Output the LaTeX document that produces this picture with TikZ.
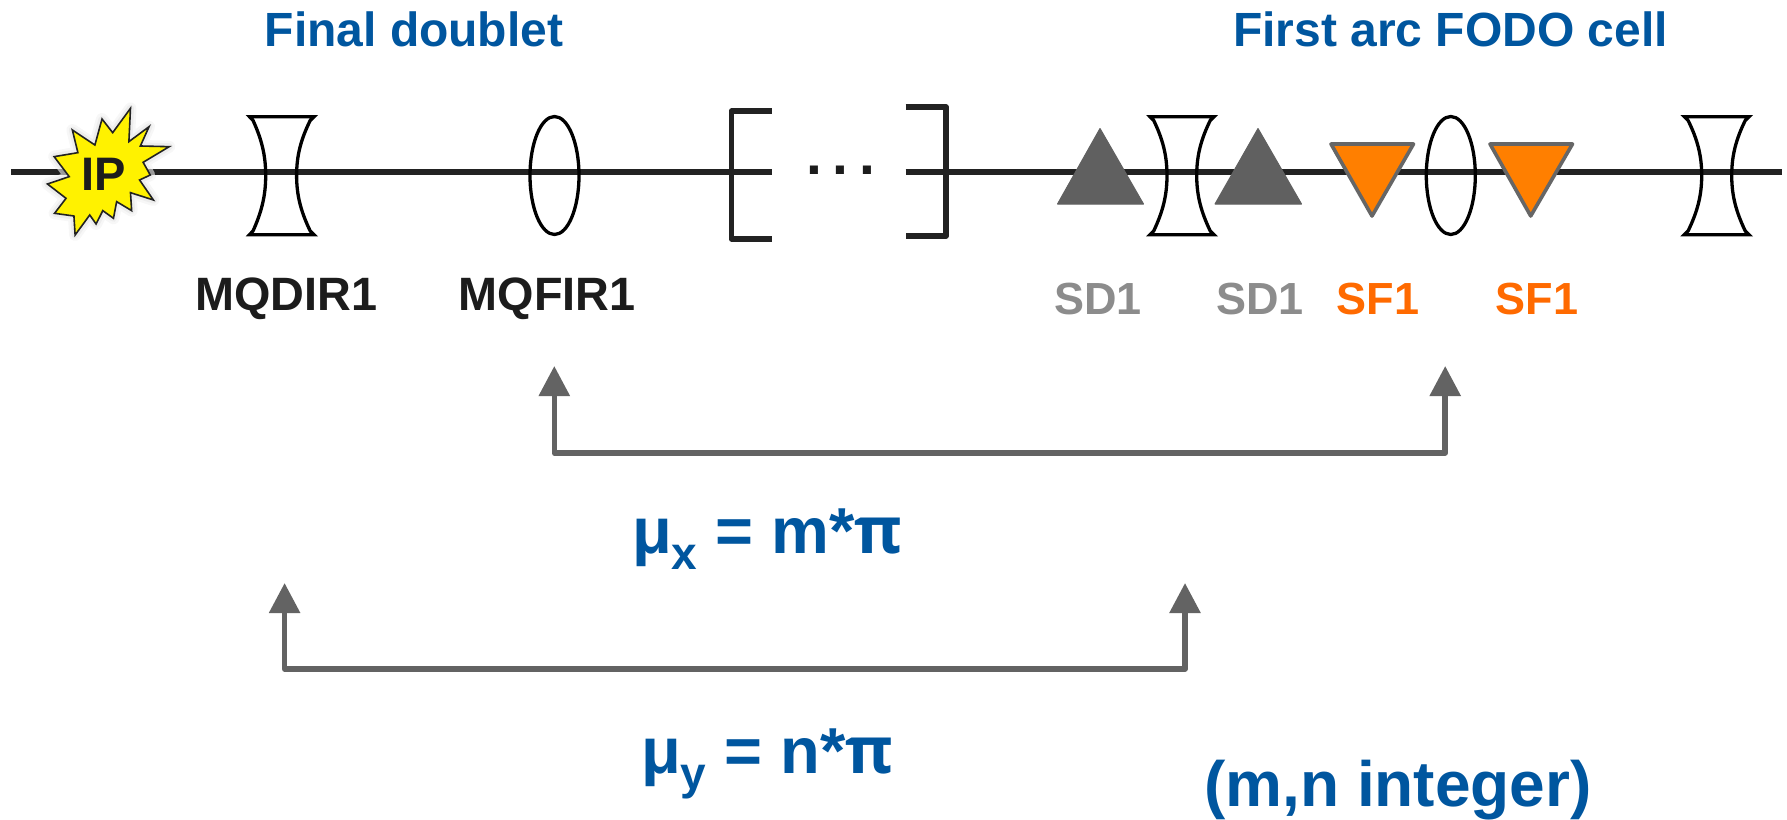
\documentclass[tikz,border=0pt]{standalone}
\usepackage{fontspec}
\setmainfont{Liberation Sans}
\newfontfamily\pifont{Open Sans}
\usetikzlibrary{arrows.meta,shapes.geometric}
\definecolor{beamc}{HTML}{222222}
\definecolor{titleblue}{HTML}{00569F}
\definecolor{conngray}{HTML}{636363}
\definecolor{sdgray}{HTML}{8C8C8C}
\definecolor{sdfill}{HTML}{606060}
\definecolor{sforange}{HTML}{FF6A00}
\definecolor{sffill}{HTML}{FF7F00}
\definecolor{sfedge}{HTML}{666666}
\definecolor{lblack}{HTML}{1C1C1C}
\newcommand{\fs}[1]{\fontsize{#1}{#1}\selectfont\bfseries}
% #1 outer left, #2 waist left, #3 waist right, #4 outer right
\newcommand{\qdlens}[4]{%
  \draw[lensline] (#1,116.7) -- (#4,116.7)
    -- ({#4-0.22*(#4-#3)},120.5)
    .. controls ({#3+0.26*(#4-#3)},139) and (#3,155) .. (#3,175.5)
    .. controls (#3,196) and ({#3+0.26*(#4-#3)},212) .. ({#4-0.22*(#4-#3)},230.9)
    -- (#4,234.7) -- (#1,234.7)
    -- ({#1+0.22*(#2-#1)},230.9)
    .. controls ({#2-0.26*(#2-#1)},212) and (#2,196) .. (#2,175.5)
    .. controls (#2,155) and ({#2-0.26*(#2-#1)},139) .. ({#1+0.22*(#2-#1)},120.5)
    -- cycle;}
\tikzset{
  lensline/.style={draw=black,line width=3.3pt,line join=miter,miter limit=3},
  focuslens/.style={ellipse,draw=black,line width=3.3pt,inner sep=0pt,outer sep=0pt,minimum width=49pt,minimum height=118pt},
  beamline/.style={draw=beamc,line width=6pt},
  bracketline/.style={draw=beamc,line width=5.6pt,line join=round},
  conn/.style={draw=conngray,line width=5.6pt,line join=round,{Triangle[width=30pt,length=30pt]}-{Triangle[width=30pt,length=30pt]}},
  sdtri/.style={fill=sdfill,draw=sdfill,line width=1pt,line join=round},
  sftri/.style={fill=sffill,draw=sfedge,line width=3.6pt,line join=round},
  lbl/.style={anchor=base,inner sep=0pt,outer sep=0pt},
  title/.style={lbl,text=titleblue,font=\fs{48}},
  formula/.style={lbl,text=titleblue,font=\fs{65}},
  maglabel/.style={lbl,text=lblack,font=\fs{46.8}},
  sdlabel/.style={lbl,text=sdgray,font=\fs{45}},
  sflabel/.style={lbl,text=sforange,font=\fs{45}},
}
\begin{document}
\begin{tikzpicture}[x=1pt,y=-1pt]
\useasboundingbox[fill=white] (0,0) rectangle (1787,819);

% beam
\coordinate (bL) at (11,171.7);
\coordinate (bGapL) at (771.6,171.7);
\coordinate (bGapR) at (905.5,171.7);
\coordinate (bR) at (1781.7,171.7);
\draw[beamline] (bL) -- (bGapL);
\draw[beamline] (bGapR) -- (bR);

% brackets
\draw[bracketline] (771.6,111) -- (731.5,111) -- (731.5,239) -- (771.6,239);
\draw[bracketline] (905.5,107) -- (946,107) -- (946,236) -- (905.5,236);
\node[lbl,text=lblack,font=\fs{57}] (dots) at (840.8,174.5) {.\hspace{11pt}.\hspace{11pt}.};

% IP star glow and star
\begin{scope}[x=0.3954pt,y=-0.3333pt,yshift=-80pt]
\def\starpath{(330,85) -- (326,185) -- (377,140) -- (355,198) -- (428,200) -- (362,247) -- (380,285) -- (353,300) -- (388,360) -- (330,338) -- (333,392) -- (295,365) -- (287,415) -- (260,392) -- (243,432) -- (227,405) -- (190,465) -- (187,408) -- (138,400) -- (167,355) -- (120,312) -- (175,290) -- (137,230) -- (197,218) -- (183,150) -- (240,195) -- (258,117) -- (285,158) -- cycle}
\draw[white,line width=10pt,line join=round,opacity=.6] \starpath;
\draw[black,line width=12pt,line join=round,opacity=.03] \starpath;
\draw[black,line width=7pt,line join=round,opacity=.04] \starpath;
\draw[fill=yellow,draw=beamc,line width=1.6pt,line join=miter] \starpath;
\end{scope}
\node[lbl,text=lblack,font=\fs{47}] (ip) at (103.5,190) {IP};

% quadrupoles
\qdlens{249.5}{265.7}{296.6}{314}
\qdlens{1150}{1167}{1196.7}{1214}
\qdlens{1684.3}{1701.7}{1731.7}{1749}
\node[focuslens] (qf1) at (554.5,175.5) {};
\node[focuslens] (qf2) at (1450.8,175.5) {};

% sextupoles
\draw[sdtri] (1100,128.5) -- (1143.5,204) -- (1057.5,204) -- cycle;
\draw[sdtri] (1258,128.5) -- (1301.5,204) -- (1215,204) -- cycle;
\draw[sftri] (1331,144) -- (1413.5,144) -- (1372,216) -- cycle;
\draw[sftri] (1490,144) -- (1572.5,144) -- (1530.7,216) -- cycle;

% labels
\node[title] (t1) at (414,46) {Final doublet};
\node[title] (t2) at (1450.5,46) {First arc FODO cell};
\node[maglabel] (m1) at (286.5,310) {MQDIR1};
\node[maglabel] (m2) at (547,310) {MQFIR1};
\node[sdlabel] (s1) at (1098,314) {SD1};
\node[sdlabel] (s2) at (1260,314) {SD1};
\node[sflabel] (f1) at (1378,314) {SF1};
\node[sflabel] (f2) at (1537,314) {SF1};

% phase advance connectors
\coordinate (xL) at (554.3,366);
\coordinate (xLc) at (554.3,453);
\coordinate (xRc) at (1445.2,453);
\coordinate (xR) at (1445.2,366);
\draw[conn] (xL) -- (xLc) -- (xRc) -- (xR);
\coordinate (yL) at (284.6,583);
\coordinate (yLc) at (284.6,669);
\coordinate (yRc) at (1185,669);
\coordinate (yR) at (1185,583);
\draw[conn] (yL) -- (yLc) -- (yRc) -- (yR);

% formulas
\node[formula,anchor=base west] (mux) at (632,553.3) {μ\raisebox{-16.5pt}{\fontsize{46}{46}\selectfont x} = m*{\pifont π}};
\node[formula,anchor=base west] (muy) at (641,773.3) {μ\raisebox{-16.5pt}{\fontsize{46}{46}\selectfont y} = n*{\pifont π}};
\node[formula,anchor=base,font=\fs{64}] (ints) at (1398,806.7) {(m,n integer)};
\end{tikzpicture}
\end{document}
